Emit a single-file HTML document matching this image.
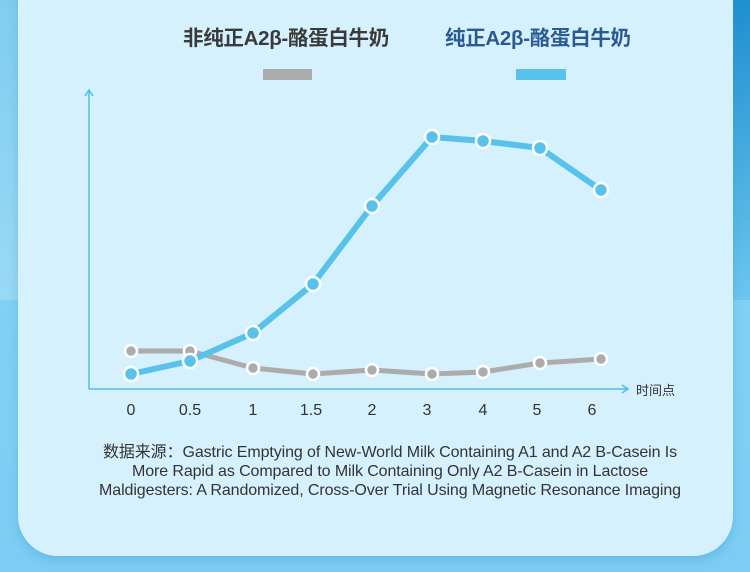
<!DOCTYPE html>
<html><head><meta charset="utf-8"><style>
body{margin:0;width:750px;height:572px;overflow:hidden;background:linear-gradient(180deg,#8fd6f6 0%,#7fd0f5 60%,#7ccdf3 100%);font-family:"Liberation Sans","Noto Sans CJK SC",sans-serif;position:relative}
.rt{position:absolute;right:0;top:0;width:20px;height:300px;background:linear-gradient(180deg,#1e8fd0,#6cc6ef)}
.lt{position:absolute;left:0;top:0;width:20px;height:300px;background:linear-gradient(180deg,#7fcdf0,#9ad9f5)}
.card{position:absolute;left:18px;top:-40px;width:715px;height:596px;background:#d5f1fd;border-radius:40px;box-shadow:0 4px 10px rgba(60,150,210,.35)}
.t{position:absolute;font-weight:bold;font-size:20.5px;top:21px;letter-spacing:-0.3px}
.src{position:absolute;left:35px;width:710px;top:443px;text-align:center;font-size:16px;line-height:19px;color:#333;letter-spacing:-0.1px}
</style></head><body>
<div class="lt"></div><div class="rt"></div>
<div class="card"></div>
<div class="t" style="left:183px;color:#3a3a3a">非纯正A2β-酪蛋白牛奶</div>
<div class="t" style="left:445px;color:#2b5a93">纯正A2β-酪蛋白牛奶</div>
<div style="position:absolute;left:263px;top:69px;width:49px;height:11px;background:#acacac"></div>
<div style="position:absolute;left:516px;top:69px;width:50px;height:11px;background:#58c2ea"></div>
<svg width="750" height="572" style="position:absolute;left:0;top:0">
<g stroke="#4fbdec" stroke-width="1.5" fill="none">
<path d="M89 389V90M85 96L89 90L93 96"/>
<path d="M89 389H628M622 385L628 389L622 393"/>
</g>
<polyline points="131,351 190,351 253,368 313,374 372,370 432,374 483,372 540,363 601,359" fill="none" stroke="#acacac" stroke-width="5" stroke-linejoin="round"/>
<g fill="#acacac" stroke="#fff" stroke-width="2.5">
<circle cx="131" cy="351" r="6"/><circle cx="190" cy="351" r="6"/><circle cx="253" cy="368" r="6"/><circle cx="313" cy="374" r="6"/><circle cx="372" cy="370" r="6"/><circle cx="432" cy="374" r="6"/><circle cx="483" cy="372" r="6"/><circle cx="540" cy="363" r="6"/><circle cx="601" cy="359" r="6"/></g>
<polyline points="131,374 190,361 253,333 313,284 372,206 432,137 483,141 540,148 601,190" fill="none" stroke="#58c2ea" stroke-width="6" stroke-linejoin="round"/>
<g fill="#58c2ea" stroke="#fff" stroke-width="2.5">
<circle cx="131" cy="374" r="7"/><circle cx="190" cy="361" r="7"/><circle cx="253" cy="333" r="7"/><circle cx="313" cy="284" r="7"/><circle cx="372" cy="206" r="7"/><circle cx="432" cy="137" r="7"/><circle cx="483" cy="141" r="7"/><circle cx="540" cy="148" r="7"/><circle cx="601" cy="190" r="7"/></g>
<g font-size="16" fill="#333" text-anchor="middle" font-family="Liberation Sans,sans-serif">
<text x="131" y="415">0</text><text x="190" y="415">0.5</text><text x="253" y="415">1</text><text x="311" y="415">1.5</text><text x="372" y="415">2</text><text x="427" y="415">3</text><text x="483" y="415">4</text><text x="537" y="415">5</text><text x="592" y="415">6</text></g>
<text x="636" y="395" font-size="13" fill="#333" font-family="Liberation Sans,Noto Sans CJK SC,sans-serif">时间点</text>
</svg>
<div class="src">数据来源：Gastric Emptying of New-World Milk Containing A1 and A2 B-Casein Is<br>More Rapid as Compared to Milk Containing Only A2 B-Casein in Lactose<br>Maldigesters: A Randomized, Cross-Over Trial Using Magnetic Resonance Imaging</div>
</body></html>
